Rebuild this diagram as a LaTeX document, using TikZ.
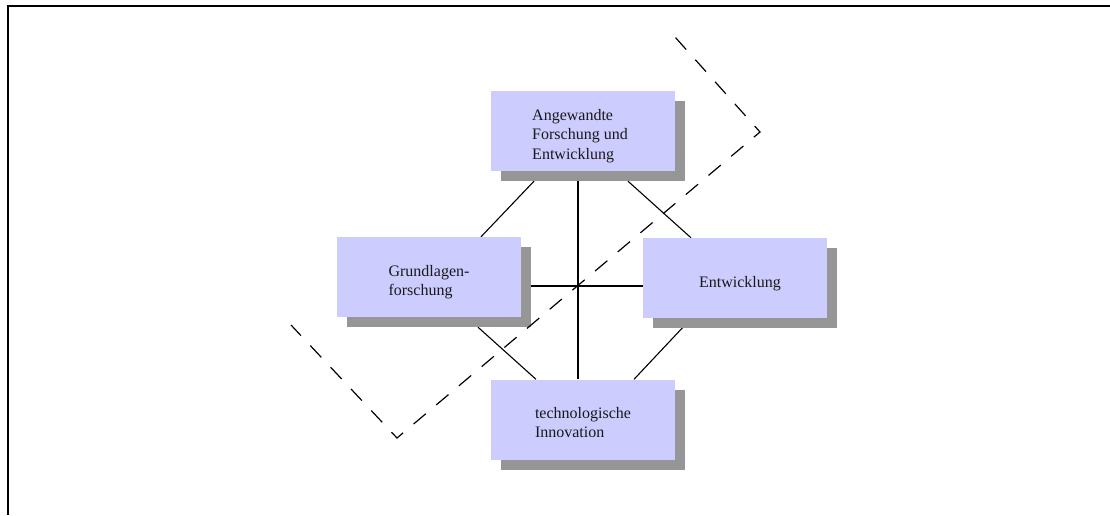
\documentclass[tikz,border=0pt]{standalone}
\usepackage{fontspec}
\setmainfont{Liberation Serif}
\usetikzlibrary{calc,shadows,backgrounds}

\definecolor{boxfill}{HTML}{CCCCFF}
\definecolor{shadowgray}{HTML}{969696}

\tikzset{
  areabox/.style={rectangle, fill=boxfill, draw=none,
    minimum width=184pt, minimum height=80pt, inner sep=0pt,
    drop shadow={shadow xshift=10pt, shadow yshift=-10pt,
                 fill=shadowgray, opacity=1}},
  areatext/.style={align=left, inner sep=0pt, text=black!90,
    font=\fontsize{16pt}{19.5pt}\selectfont},
  link/.style={draw=black, line width=1.1pt},
  frameline/.style={draw=black, line width=2pt},
  boundary/.style={draw=black, line width=1.2pt,
    dash pattern=on 16pt off 13.67pt, dash phase=28.85pt, line join=miter}
}

\begin{document}
\begin{tikzpicture}[x=1pt, y=-1pt]
  \useasboundingbox (0,0) rectangle (1110,515);

  % open frame: left and top edges only
  \draw[frameline] (8,515) -- (8,5.5) -- (1110,5.5);

  % the four areas
  \node[areabox] (top)    at (583,131)   {};
  \node[areabox] (left)   at (429,277)   {};
  \node[areabox] (right)  at (735,278)   {};
  \node[areabox] (bottom) at (583,419.5) {};

  \node[areatext] (toptxt)    at ([xshift=-3pt,yshift=-5pt]top.center)
    {Angewandte\\Forschung und\\Entwicklung};
  \node[areatext] (lefttxt)   at ([yshift=-5pt]left.center)
    {Grundlagen-\\forschung};
  \node[areatext] (righttxt)  at ([xshift=5pt,yshift=-6pt]right.center)
    {Entwicklung};
  \node[areatext] (bottomtxt) at ([yshift=-3pt]bottom.center)
    {technologische\\Innovation};

  % connections between the areas, behind the boxes
  \begin{scope}[on background layer]
    \draw[link] ($(top.south)+(-49,10)$)   -- ($(left.north)+(52,0)$);
    \draw[link] ($(top.south)+(45,10)$)    -- ($(right.north)+(-44,0)$);
    \draw[link] ($(top.south)+(-5,10)$)    -- ($(bottom.north)+(-5,0)$);
    \draw[link] ($(left.east)+(10,9)$)     -- ($(right.west)+(0,8)$);
    \draw[link] ($(left.south)+(49,10)$)   -- ($(bottom.north)+(-47,0)$);
    \draw[link] ($(right.south)+(-52,9)$)  -- ($(bottom.north)+(51,0)$);
  \end{scope}

  % dashed boundary line
  \coordinate (b1) at (675,37);
  \coordinate (b2) at (760,132);
  \coordinate (b3) at (397,438);
  \coordinate (b4) at (291,325);
  \draw[boundary] (b1) -- (b2) -- (b3) -- (b4);
\end{tikzpicture}
\end{document}
